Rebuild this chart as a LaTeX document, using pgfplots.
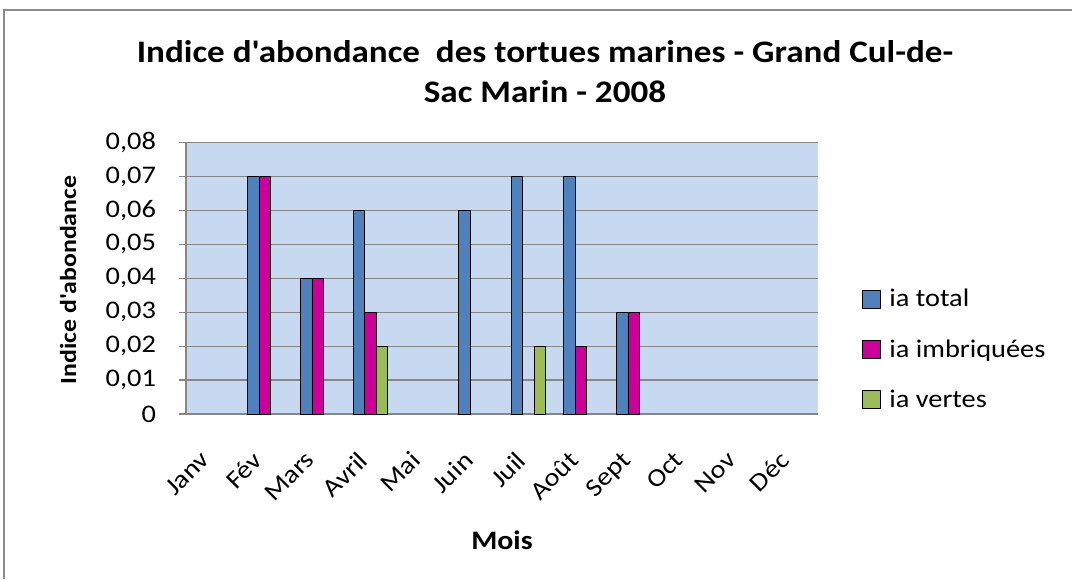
\documentclass[border=0pt]{standalone}
\usepackage{fontspec}
\setmainfont{Carlito}
\newfontfamily\wf{Carlito}[FakeStretch=1.12, Ligatures=ResetAll]
\usepackage{pgfplots}
\pgfplotsset{compat=1.18}
\definecolor{bgblue}{RGB}{198,217,240}
\definecolor{serblue}{RGB}{79,129,189}
\definecolor{sermag}{RGB}{204,0,153}
\definecolor{sergreen}{RGB}{155,187,89}
\definecolor{gridgray}{RGB}{134,134,134}
\definecolor{framegray}{RGB}{140,140,140}
\begin{document}
\begin{tikzpicture}
\useasboundingbox (0,0) rectangle (804pt,-434.25pt);
\fill[white] (0,0) rectangle (804pt,-434.25pt);
\draw[framegray, line width=1.5pt] (3pt,-434.25pt) -- (3pt,-7.5pt) -- (804pt,-7.5pt);
\node[font=\wf\bfseries\fontsize{23.5}{30}\selectfont, align=center] at (408.75pt,-54pt)
  {Indice d'abondance\ \ des tortues marines - Grand Cul-de-\\Sac Marin - 2008};
\node[font=\wf\bfseries\fontsize{17.3}{22}\selectfont, rotate=90] at (51pt,-210pt) {Indice d'abondance};
\node[font=\wf\bfseries\fontsize{20}{22}\selectfont] at (376.5pt,-405pt) {Mois};
\begin{axis}[
  at={(139.5pt,-310.5pt)}, anchor=south west,
  scale only axis, width=474pt, height=203.6pt,
  xmin=-0.5, xmax=11.5, ymin=0, ymax=0.08,
  ybar=0pt, bar width=0.218,
  axis background/.style={fill=bgblue},
  xtick={0,1,2,3,4,5,6,7,8,9,10,11},
  xticklabels={Janv,Fév,Mars,Avril,Mai,Juin,Juil,Août,Sept,Oct,Nov,Déc},
  ytick={0,0.01,0.02,0.03,0.04,0.05,0.06,0.07,0.08},
  scaled y ticks=false,
  ymajorgrids, grid style={gridgray, line width=0.9pt},
  axis x line*=bottom, axis y line*=left,
  axis line style={gridgray, line width=0.9pt, -},
  tick align=outside, major tick length=5pt,
  xtick style={draw=none}, ytick style={gridgray, line width=0.9pt},
  ticklabel style={font=\wf\fontsize{19}{22}\selectfont},
  /pgf/number format/.cd, fixed, precision=2, use comma, assume math mode=true, /pgfplots/.cd,
  xticklabel style={xshift=-10pt, yshift=-17pt, rotate=45, anchor=north east},
  yticklabel style={xshift=-14pt},
  legend style={at={(1,0.239)}, anchor=west, xshift=30pt, draw=none, fill=none,
    font=\wf\fontsize{19}{22}\selectfont, row sep=19pt, legend cell align=left},
]
\addplot[fill=serblue, draw=black, line width=0.6pt,
  legend image code/.code={\draw[fill=serblue, draw=black, line width=0.6pt] (0pt,-6.75pt) rectangle (13.5pt,6.75pt); \path[draw=none, fill=none] (0pt,0pt) -- (18pt,0pt);}]
  coordinates {(1,0.07) (2,0.04) (3,0.06) (5,0.06) (6,0.07) (7,0.07) (8,0.03)};
\addplot[fill=sermag, draw=black, line width=0.6pt,
  legend image code/.code={\draw[fill=sermag, draw=black, line width=0.6pt] (0pt,-6.75pt) rectangle (13.5pt,6.75pt); \path[draw=none, fill=none] (0pt,0pt) -- (18pt,0pt);}]
  coordinates {(1,0.07) (2,0.04) (3,0.03) (7,0.02) (8,0.03)};
\addplot[fill=sergreen, draw=black, line width=0.6pt,
  legend image code/.code={\draw[fill=sergreen, draw=black, line width=0.6pt] (0pt,-6.75pt) rectangle (13.5pt,6.75pt); \path[draw=none, fill=none] (0pt,0pt) -- (18pt,0pt);}]
  coordinates {(3,0.02) (6,0.02)};
\legend{ia total, ia imbriquées, ia vertes}
\end{axis}
\end{tikzpicture}
\end{document}
